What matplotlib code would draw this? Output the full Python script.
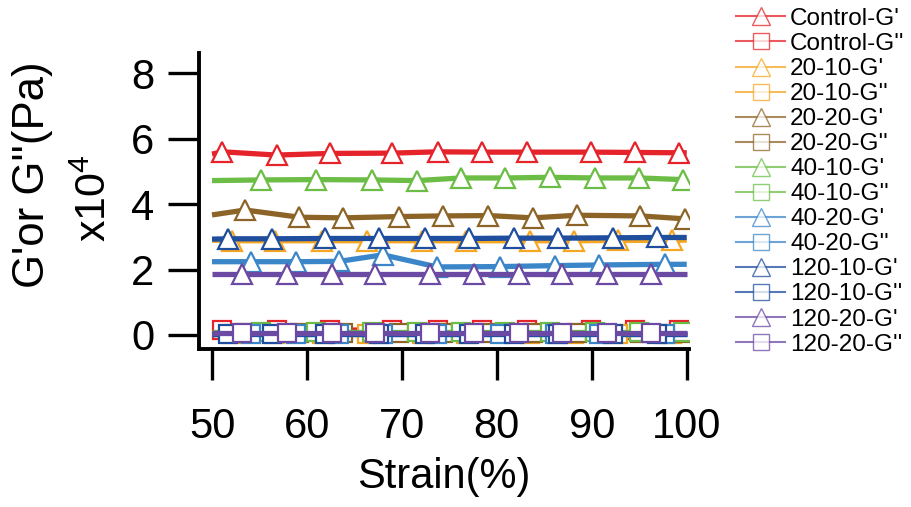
import matplotlib
matplotlib.use("Agg")
import matplotlib.pyplot as plt
from matplotlib.lines import Line2D

plt.rcParams['font.family'] = ['Liberation Sans', 'DejaVu Sans']
plt.rcParams['mathtext.fontset'] = 'custom'
plt.rcParams['mathtext.rm'] = 'Liberation Sans'
plt.rcParams['mathtext.it'] = 'Liberation Sans'

# ---------------- data ----------------
series_names = ["Control", "20-10", "20-20", "40-10", "40-20", "120-10", "120-20"]
colors = ["#e5232a", "#f5a623", "#8c6428", "#6cbd45", "#3a86c8", "#1f4e9e", "#6a4aa2"]

control_x = [50, 51.1, 56.8, 62.4, 69.0, 73.8, 78.4, 83.2, 89.9, 94.6, 99.2, 100]
control_gp = [5.53, 5.60, 5.50, 5.55, 5.56, 5.60, 5.59, 5.59, 5.59, 5.58, 5.57, 5.57]
control_gpp = [0.15, 0.15, 0.15, 0.15, 0.15, 0.15, 0.15, 0.15, 0.15, 0.15, 0.16, 0.16]

s20_10_x = [50, 52.1, 56.6, 61.6, 66.3, 72.1, 76.7, 83.5, 88.1, 92.8, 98.4, 100]
s20_10_gp = [2.90, 2.88, 2.88, 2.88, 2.88, 2.88, 2.88, 2.88, 2.88, 2.89, 2.89, 2.90]
s20_10_gpp = [0.03, 0.03, 0.03, 0.03, 0.03, 0.03, 0.03, 0.03, 0.03, 0.03, 0.03, 0.03]

s20_20_x = [50, 53.5, 59.2, 63.8, 69.7, 74.3, 79.1, 83.8, 88.4, 95.1, 99.8]
s20_20_gp = [3.67, 3.82, 3.60, 3.58, 3.62, 3.64, 3.65, 3.58, 3.66, 3.64, 3.55]
s20_20_gpp = [0.06, 0.06, 0.06, 0.06, 0.06, 0.06, 0.06, 0.06, 0.06, 0.06, 0.06]

s40_10_x = [50, 55.2, 61.0, 66.8, 71.6, 76.2, 80.9, 85.6, 90.3, 95.0, 99.6]
s40_10_gp = [4.72, 4.74, 4.75, 4.74, 4.72, 4.80, 4.80, 4.82, 4.80, 4.80, 4.75]
s40_10_gpp = [0.09, 0.09, 0.09, 0.09, 0.09, 0.09, 0.09, 0.09, 0.09, 0.09, 0.09]

s40_20_x = [50, 54.1, 58.8, 63.4, 68.0, 73.7, 80.3, 86.1, 90.8, 97.7, 100]
s40_20_gp = [2.24, 2.24, 2.24, 2.25, 2.45, 2.08, 2.09, 2.12, 2.14, 2.16, 2.16]
s40_20_gpp = [0.02, 0.02, 0.02, 0.02, 0.02, 0.02, 0.02, 0.02, 0.02, 0.02, 0.02]

s120_10_x = [50, 51.7, 56.3, 61.9, 67.6, 72.4, 77.1, 81.8, 86.4, 92.2, 96.9, 100]
s120_10_gp = [2.93, 2.94, 2.94, 2.95, 2.95, 2.95, 2.95, 2.96, 2.96, 2.97, 2.98, 2.98]
s120_10_gpp = [0.04, 0.04, 0.04, 0.04, 0.04, 0.04, 0.04, 0.04, 0.04, 0.04, 0.04, 0.04]

s120_20_x = [50, 53.2, 57.9, 62.6, 67.2, 73.0, 77.6, 82.3, 86.9, 91.6, 96.2, 100]
s120_20_gp = [1.86, 1.86, 1.86, 1.86, 1.86, 1.86, 1.86, 1.86, 1.86, 1.86, 1.86, 1.86]
s120_20_gpp = [0.06, 0.06, 0.06, 0.06, 0.06, 0.06, 0.06, 0.06, 0.06, 0.06, 0.06, 0.06]

xs = [control_x, s20_10_x, s20_20_x, s40_10_x, s40_20_x, s120_10_x, s120_20_x]
gps = [control_gp, s20_10_gp, s20_20_gp, s40_10_gp, s40_20_gp, s120_10_gp, s120_20_gp]
gpps = [control_gpp, s20_10_gpp, s20_20_gpp, s40_10_gpp, s40_20_gpp, s120_10_gpp, s120_20_gpp]

x_ticks = [50, 60, 70, 80, 90, 100]
y_ticks = [0, 2, 4, 6, 8]

# ---------------- figure ----------------
fig = plt.figure(figsize=(9.12, 5.07), dpi=100)
ax = fig.add_axes([0.2182, 0.3116, 0.5373, 0.5838])

def mk_every(x):
    # markers on measured points, not on the line end caps at exactly 50 / 100
    return [i for i, v in enumerate(x) if 50 < v < 100]

handles = []
labels = []
for name, c, x, gp, gpp in zip(series_names, colors, xs, gps, gpps):
    ax.plot(x, gp, color=c, lw=3.8, marker='^', ms=14.5, mfc='white', mec=c,
            mew=1.6, markevery=mk_every(x), solid_capstyle='butt')
    ax.plot(x, gpp, color=c, lw=3.8, marker='s', ms=13, mfc='white', mec=c,
            mew=1.6, markevery=mk_every(x), solid_capstyle='butt')
    handles.append(Line2D([], [], color=c, lw=1.5, marker='^', ms=12.5, mfc='white',
                          mec=c, mew=1.0, alpha=0.75))
    labels.append(f"{name}-G'")
    handles.append(Line2D([], [], color=c, lw=1.5, marker='s', ms=11, mfc='white',
                          mec=c, mew=1.0, alpha=0.75))
    labels.append(f"{name}-G''")

ax.set_xlim(48.63, 100.24)
ax.set_ylim(-0.43, 8.62)
ax.set_xticks(x_ticks)
ax.set_yticks(y_ticks)
for s in ['top', 'right']:
    ax.spines[s].set_visible(False)
for s in ['left', 'bottom']:
    ax.spines[s].set_linewidth(2.8)
ax.tick_params(axis='both', direction='out', length=22, width=2.4, labelsize=30)
ax.tick_params(axis='x', pad=20)
ax.tick_params(axis='y', pad=10)

ax.set_xlabel("Strain(%)", fontsize=30, labelpad=7)

fig.text(0.036, 0.655, "G'or G''(Pa)", rotation=90, fontsize=31.5,
         ha='center', va='center')
fig.text(0.104, 0.609, "x10$^4$", rotation=90, fontsize=31,
         ha='center', va='center')

fig.legend(handles, labels, loc='upper left', bbox_to_anchor=(0.802, 0.994),
           frameon=False, fontsize=17.5, handlelength=2.0, handletextpad=0.22,
           labelspacing=0.125, borderaxespad=0, borderpad=0.2)

fig.savefig("out.png", dpi=100)
